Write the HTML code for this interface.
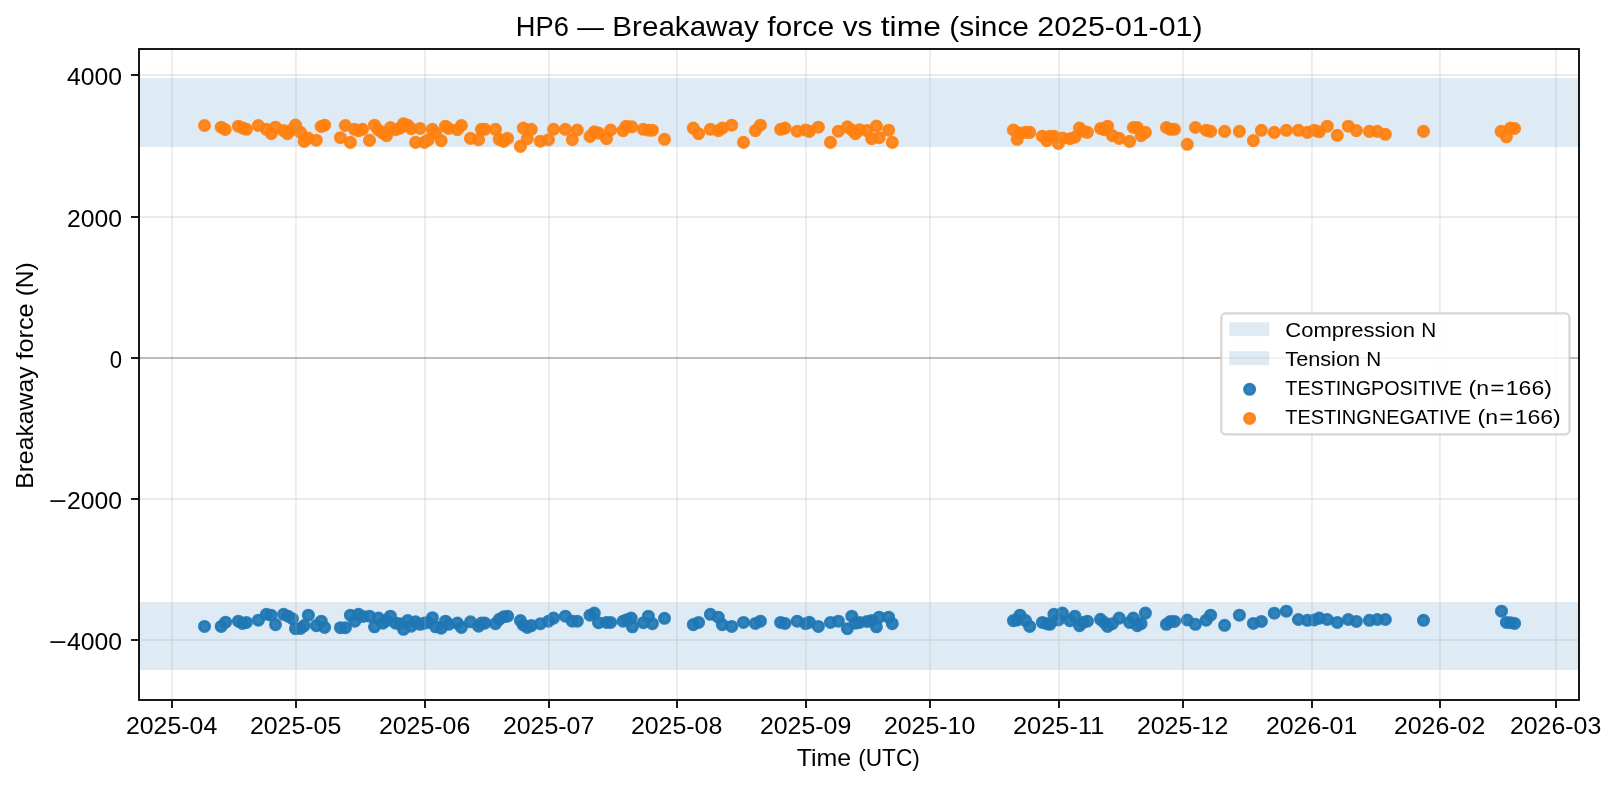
<!DOCTYPE html>
<html lang="en"><head><meta charset="utf-8"><title>HP6 — Breakaway force vs time</title>
<style>html,body{margin:0;padding:0;background:#fff}body{width:1618px;height:786px;overflow:hidden}svg{display:block;will-change:transform}text{font-family:"Liberation Sans",sans-serif;fill:#000}</style>
</head><body>
<svg width="1618" height="786" viewBox="0 0 1618 786">
<rect width="1618" height="786" fill="#fff"/>
<g fill="#1f77b4" fill-opacity="0.15">
<rect x="139.0" y="78.0" width="1440.0" height="69.0"/>
<rect x="139.0" y="602.0" width="1440.0" height="68.0"/>
</g>
<g fill="#1f77b4" fill-opacity="0.9" stroke="#1f77b4" stroke-opacity="0.9" stroke-width="2.85">
<circle cx="204.5" cy="626.4" r="5.1"/>
<circle cx="221.2" cy="626.4" r="5.1"/>
<circle cx="225.6" cy="622.2" r="5.1"/>
<circle cx="238.4" cy="621.2" r="5.1"/>
<circle cx="242.4" cy="623.4" r="5.1"/>
<circle cx="246.4" cy="622.4" r="5.1"/>
<circle cx="258.4" cy="620.2" r="5.1"/>
<circle cx="266.4" cy="614.3" r="5.1"/>
<circle cx="271.1" cy="615.2" r="5.1"/>
<circle cx="275.5" cy="624.6" r="5.1"/>
<circle cx="283.6" cy="614.3" r="5.1"/>
<circle cx="288.0" cy="616.2" r="5.1"/>
<circle cx="292.4" cy="618.7" r="5.1"/>
<circle cx="295.5" cy="628.7" r="5.1"/>
<circle cx="300.5" cy="628.4" r="5.1"/>
<circle cx="304.2" cy="625.6" r="5.1"/>
<circle cx="308.4" cy="615.2" r="5.1"/>
<circle cx="316.3" cy="625.6" r="5.1"/>
<circle cx="321.3" cy="621.2" r="5.1"/>
<circle cx="324.6" cy="627.4" r="5.1"/>
<circle cx="340.4" cy="627.7" r="5.1"/>
<circle cx="345.4" cy="627.7" r="5.1"/>
<circle cx="350.4" cy="615.2" r="5.1"/>
<circle cx="354.8" cy="621.2" r="5.1"/>
<circle cx="358.5" cy="614.3" r="5.1"/>
<circle cx="362.9" cy="616.5" r="5.1"/>
<circle cx="369.5" cy="616.2" r="5.1"/>
<circle cx="374.5" cy="626.8" r="5.1"/>
<circle cx="378.5" cy="618.1" r="5.1"/>
<circle cx="382.9" cy="623.1" r="5.1"/>
<circle cx="386.6" cy="620.6" r="5.1"/>
<circle cx="390.4" cy="616.2" r="5.1"/>
<circle cx="395.6" cy="623.1" r="5.1"/>
<circle cx="400.0" cy="623.7" r="5.1"/>
<circle cx="403.5" cy="629.3" r="5.1"/>
<circle cx="407.7" cy="620.6" r="5.1"/>
<circle cx="411.2" cy="626.2" r="5.1"/>
<circle cx="415.6" cy="621.8" r="5.1"/>
<circle cx="420.2" cy="624.3" r="5.1"/>
<circle cx="424.3" cy="623.1" r="5.1"/>
<circle cx="428.1" cy="622.4" r="5.1"/>
<circle cx="432.4" cy="617.7" r="5.1"/>
<circle cx="435.6" cy="626.8" r="5.1"/>
<circle cx="441.2" cy="628.1" r="5.1"/>
<circle cx="445.5" cy="621.2" r="5.1"/>
<circle cx="448.7" cy="624.3" r="5.1"/>
<circle cx="457.4" cy="623.1" r="5.1"/>
<circle cx="461.4" cy="627.4" r="5.1"/>
<circle cx="470.5" cy="621.8" r="5.1"/>
<circle cx="478.6" cy="626.2" r="5.1"/>
<circle cx="481.4" cy="623.1" r="5.1"/>
<circle cx="484.9" cy="623.1" r="5.1"/>
<circle cx="495.5" cy="623.7" r="5.1"/>
<circle cx="499.2" cy="619.3" r="5.1"/>
<circle cx="503.6" cy="616.8" r="5.1"/>
<circle cx="507.6" cy="616.2" r="5.1"/>
<circle cx="520.4" cy="620.6" r="5.1"/>
<circle cx="523.3" cy="624.9" r="5.1"/>
<circle cx="527.3" cy="627.4" r="5.1"/>
<circle cx="531.3" cy="625.6" r="5.1"/>
<circle cx="540.4" cy="623.7" r="5.1"/>
<circle cx="548.5" cy="621.2" r="5.1"/>
<circle cx="553.5" cy="618.1" r="5.1"/>
<circle cx="565.4" cy="616.2" r="5.1"/>
<circle cx="572.3" cy="621.2" r="5.1"/>
<circle cx="577.3" cy="621.2" r="5.1"/>
<circle cx="590.0" cy="615.2" r="5.1"/>
<circle cx="594.3" cy="613.1" r="5.1"/>
<circle cx="598.5" cy="622.7" r="5.1"/>
<circle cx="606.5" cy="622.4" r="5.1"/>
<circle cx="610.6" cy="622.4" r="5.1"/>
<circle cx="623.1" cy="621.2" r="5.1"/>
<circle cx="626.8" cy="619.7" r="5.1"/>
<circle cx="631.2" cy="618.1" r="5.1"/>
<circle cx="632.4" cy="626.8" r="5.1"/>
<circle cx="643.4" cy="622.7" r="5.1"/>
<circle cx="648.4" cy="616.2" r="5.1"/>
<circle cx="652.4" cy="623.7" r="5.1"/>
<circle cx="664.5" cy="618.3" r="5.1"/>
<circle cx="693.3" cy="624.6" r="5.1"/>
<circle cx="698.6" cy="622.4" r="5.1"/>
<circle cx="710.4" cy="614.3" r="5.1"/>
<circle cx="718.3" cy="617.2" r="5.1"/>
<circle cx="722.3" cy="624.6" r="5.1"/>
<circle cx="731.7" cy="626.4" r="5.1"/>
<circle cx="743.5" cy="622.4" r="5.1"/>
<circle cx="755.4" cy="623.4" r="5.1"/>
<circle cx="760.4" cy="621.2" r="5.1"/>
<circle cx="780.6" cy="622.4" r="5.1"/>
<circle cx="785.0" cy="623.4" r="5.1"/>
<circle cx="797.2" cy="621.2" r="5.1"/>
<circle cx="805.6" cy="623.7" r="5.1"/>
<circle cx="809.3" cy="622.2" r="5.1"/>
<circle cx="818.4" cy="626.4" r="5.1"/>
<circle cx="830.5" cy="622.4" r="5.1"/>
<circle cx="838.4" cy="621.2" r="5.1"/>
<circle cx="847.4" cy="628.7" r="5.1"/>
<circle cx="851.8" cy="616.2" r="5.1"/>
<circle cx="855.5" cy="623.1" r="5.1"/>
<circle cx="859.6" cy="622.4" r="5.1"/>
<circle cx="867.1" cy="621.4" r="5.1"/>
<circle cx="871.7" cy="620.6" r="5.1"/>
<circle cx="876.4" cy="626.8" r="5.1"/>
<circle cx="879.2" cy="617.2" r="5.1"/>
<circle cx="888.6" cy="617.2" r="5.1"/>
<circle cx="892.3" cy="623.7" r="5.1"/>
<circle cx="1013.4" cy="620.6" r="5.1"/>
<circle cx="1017.2" cy="620.0" r="5.1"/>
<circle cx="1020.0" cy="615.2" r="5.1"/>
<circle cx="1025.6" cy="620.6" r="5.1"/>
<circle cx="1029.7" cy="626.4" r="5.1"/>
<circle cx="1042.4" cy="622.4" r="5.1"/>
<circle cx="1046.8" cy="623.7" r="5.1"/>
<circle cx="1049.9" cy="624.3" r="5.1"/>
<circle cx="1053.9" cy="614.3" r="5.1"/>
<circle cx="1058.4" cy="620.0" r="5.1"/>
<circle cx="1062.4" cy="613.1" r="5.1"/>
<circle cx="1069.9" cy="620.6" r="5.1"/>
<circle cx="1074.9" cy="616.2" r="5.1"/>
<circle cx="1079.5" cy="625.6" r="5.1"/>
<circle cx="1083.0" cy="622.4" r="5.1"/>
<circle cx="1087.4" cy="621.2" r="5.1"/>
<circle cx="1100.5" cy="619.3" r="5.1"/>
<circle cx="1104.2" cy="622.4" r="5.1"/>
<circle cx="1107.6" cy="626.4" r="5.1"/>
<circle cx="1112.4" cy="623.7" r="5.1"/>
<circle cx="1119.2" cy="618.1" r="5.1"/>
<circle cx="1129.6" cy="622.4" r="5.1"/>
<circle cx="1133.3" cy="618.1" r="5.1"/>
<circle cx="1137.3" cy="625.6" r="5.1"/>
<circle cx="1141.1" cy="623.7" r="5.1"/>
<circle cx="1145.4" cy="613.1" r="5.1"/>
<circle cx="1166.4" cy="624.3" r="5.1"/>
<circle cx="1170.4" cy="621.4" r="5.1"/>
<circle cx="1174.5" cy="621.4" r="5.1"/>
<circle cx="1187.3" cy="620.0" r="5.1"/>
<circle cx="1195.4" cy="624.3" r="5.1"/>
<circle cx="1206.2" cy="620.2" r="5.1"/>
<circle cx="1210.6" cy="615.2" r="5.1"/>
<circle cx="1224.6" cy="625.3" r="5.1"/>
<circle cx="1239.4" cy="615.2" r="5.1"/>
<circle cx="1253.4" cy="623.4" r="5.1"/>
<circle cx="1261.4" cy="621.4" r="5.1"/>
<circle cx="1274.3" cy="613.2" r="5.1"/>
<circle cx="1286.4" cy="611.2" r="5.1"/>
<circle cx="1298.4" cy="619.5" r="5.1"/>
<circle cx="1307.4" cy="620.3" r="5.1"/>
<circle cx="1314.2" cy="620.0" r="5.1"/>
<circle cx="1319.2" cy="618.1" r="5.1"/>
<circle cx="1327.3" cy="619.5" r="5.1"/>
<circle cx="1337.3" cy="622.4" r="5.1"/>
<circle cx="1348.3" cy="619.5" r="5.1"/>
<circle cx="1356.4" cy="621.4" r="5.1"/>
<circle cx="1369.4" cy="620.3" r="5.1"/>
<circle cx="1377.3" cy="619.5" r="5.1"/>
<circle cx="1385.4" cy="619.5" r="5.1"/>
<circle cx="1423.5" cy="620.3" r="5.1"/>
<circle cx="1501.5" cy="611.2" r="5.1"/>
<circle cx="1506.4" cy="622.4" r="5.1"/>
<circle cx="1510.5" cy="622.7" r="5.1"/>
<circle cx="1514.6" cy="623.4" r="5.1"/>
</g>
<g fill="#ff7f0e" fill-opacity="0.9" stroke="#ff7f0e" stroke-opacity="0.9" stroke-width="2.85">
<circle cx="204.5" cy="125.5" r="5.1"/>
<circle cx="221.2" cy="127.2" r="5.1"/>
<circle cx="225.2" cy="129.5" r="5.1"/>
<circle cx="238.4" cy="126.2" r="5.1"/>
<circle cx="243.1" cy="128.1" r="5.1"/>
<circle cx="246.4" cy="129.3" r="5.1"/>
<circle cx="258.3" cy="125.5" r="5.1"/>
<circle cx="266.4" cy="129.3" r="5.1"/>
<circle cx="271.4" cy="133.7" r="5.1"/>
<circle cx="275.5" cy="127.2" r="5.1"/>
<circle cx="283.6" cy="130.6" r="5.1"/>
<circle cx="287.4" cy="133.7" r="5.1"/>
<circle cx="291.4" cy="130.0" r="5.1"/>
<circle cx="295.5" cy="125.0" r="5.1"/>
<circle cx="300.5" cy="132.4" r="5.1"/>
<circle cx="304.2" cy="141.4" r="5.1"/>
<circle cx="308.0" cy="138.1" r="5.1"/>
<circle cx="316.3" cy="140.2" r="5.1"/>
<circle cx="321.1" cy="126.5" r="5.1"/>
<circle cx="324.6" cy="125.2" r="5.1"/>
<circle cx="340.4" cy="137.7" r="5.1"/>
<circle cx="345.3" cy="125.5" r="5.1"/>
<circle cx="350.4" cy="142.4" r="5.1"/>
<circle cx="354.5" cy="129.3" r="5.1"/>
<circle cx="358.5" cy="130.6" r="5.1"/>
<circle cx="362.5" cy="129.3" r="5.1"/>
<circle cx="369.5" cy="140.4" r="5.1"/>
<circle cx="374.5" cy="125.2" r="5.1"/>
<circle cx="378.5" cy="130.0" r="5.1"/>
<circle cx="382.9" cy="133.1" r="5.1"/>
<circle cx="386.6" cy="135.6" r="5.1"/>
<circle cx="390.4" cy="127.5" r="5.1"/>
<circle cx="395.6" cy="129.7" r="5.1"/>
<circle cx="400.0" cy="128.1" r="5.1"/>
<circle cx="403.5" cy="123.7" r="5.1"/>
<circle cx="407.7" cy="125.2" r="5.1"/>
<circle cx="411.2" cy="128.7" r="5.1"/>
<circle cx="415.6" cy="142.4" r="5.1"/>
<circle cx="420.2" cy="128.5" r="5.1"/>
<circle cx="424.3" cy="142.4" r="5.1"/>
<circle cx="428.1" cy="139.9" r="5.1"/>
<circle cx="432.4" cy="129.3" r="5.1"/>
<circle cx="435.6" cy="133.1" r="5.1"/>
<circle cx="441.2" cy="140.6" r="5.1"/>
<circle cx="445.5" cy="126.2" r="5.1"/>
<circle cx="448.7" cy="128.5" r="5.1"/>
<circle cx="457.4" cy="129.7" r="5.1"/>
<circle cx="461.4" cy="125.5" r="5.1"/>
<circle cx="470.5" cy="138.4" r="5.1"/>
<circle cx="478.6" cy="139.7" r="5.1"/>
<circle cx="481.4" cy="129.3" r="5.1"/>
<circle cx="484.9" cy="129.3" r="5.1"/>
<circle cx="495.5" cy="129.3" r="5.1"/>
<circle cx="499.2" cy="139.3" r="5.1"/>
<circle cx="503.6" cy="141.4" r="5.1"/>
<circle cx="507.6" cy="138.4" r="5.1"/>
<circle cx="520.4" cy="146.4" r="5.1"/>
<circle cx="523.3" cy="128.1" r="5.1"/>
<circle cx="527.3" cy="138.7" r="5.1"/>
<circle cx="531.3" cy="129.3" r="5.1"/>
<circle cx="540.4" cy="141.2" r="5.1"/>
<circle cx="548.5" cy="139.7" r="5.1"/>
<circle cx="553.5" cy="129.3" r="5.1"/>
<circle cx="565.4" cy="129.3" r="5.1"/>
<circle cx="572.3" cy="139.7" r="5.1"/>
<circle cx="577.3" cy="130.0" r="5.1"/>
<circle cx="590.0" cy="136.4" r="5.1"/>
<circle cx="594.3" cy="131.8" r="5.1"/>
<circle cx="598.5" cy="133.1" r="5.1"/>
<circle cx="606.5" cy="138.7" r="5.1"/>
<circle cx="610.6" cy="130.0" r="5.1"/>
<circle cx="623.1" cy="130.6" r="5.1"/>
<circle cx="626.2" cy="126.2" r="5.1"/>
<circle cx="631.8" cy="126.8" r="5.1"/>
<circle cx="643.4" cy="129.3" r="5.1"/>
<circle cx="648.7" cy="130.2" r="5.1"/>
<circle cx="652.4" cy="130.2" r="5.1"/>
<circle cx="664.5" cy="139.3" r="5.1"/>
<circle cx="693.3" cy="128.1" r="5.1"/>
<circle cx="698.6" cy="133.7" r="5.1"/>
<circle cx="710.4" cy="129.3" r="5.1"/>
<circle cx="718.3" cy="130.6" r="5.1"/>
<circle cx="722.3" cy="128.1" r="5.1"/>
<circle cx="731.7" cy="125.2" r="5.1"/>
<circle cx="743.5" cy="142.4" r="5.1"/>
<circle cx="755.4" cy="130.6" r="5.1"/>
<circle cx="760.4" cy="125.2" r="5.1"/>
<circle cx="780.6" cy="129.3" r="5.1"/>
<circle cx="785.0" cy="128.1" r="5.1"/>
<circle cx="797.2" cy="131.2" r="5.1"/>
<circle cx="805.6" cy="130.0" r="5.1"/>
<circle cx="809.3" cy="131.4" r="5.1"/>
<circle cx="818.4" cy="127.2" r="5.1"/>
<circle cx="830.5" cy="142.4" r="5.1"/>
<circle cx="838.4" cy="131.2" r="5.1"/>
<circle cx="847.4" cy="126.8" r="5.1"/>
<circle cx="851.8" cy="130.0" r="5.1"/>
<circle cx="855.5" cy="133.7" r="5.1"/>
<circle cx="859.6" cy="129.7" r="5.1"/>
<circle cx="867.1" cy="130.6" r="5.1"/>
<circle cx="871.7" cy="138.7" r="5.1"/>
<circle cx="876.4" cy="126.0" r="5.1"/>
<circle cx="879.2" cy="137.7" r="5.1"/>
<circle cx="888.6" cy="130.2" r="5.1"/>
<circle cx="892.3" cy="142.4" r="5.1"/>
<circle cx="1013.4" cy="130.0" r="5.1"/>
<circle cx="1017.2" cy="139.3" r="5.1"/>
<circle cx="1020.0" cy="133.1" r="5.1"/>
<circle cx="1025.6" cy="132.4" r="5.1"/>
<circle cx="1029.7" cy="132.4" r="5.1"/>
<circle cx="1042.4" cy="136.2" r="5.1"/>
<circle cx="1046.8" cy="140.6" r="5.1"/>
<circle cx="1049.9" cy="136.4" r="5.1"/>
<circle cx="1053.9" cy="136.2" r="5.1"/>
<circle cx="1058.4" cy="143.4" r="5.1"/>
<circle cx="1062.4" cy="138.1" r="5.1"/>
<circle cx="1069.9" cy="138.7" r="5.1"/>
<circle cx="1074.9" cy="137.2" r="5.1"/>
<circle cx="1079.5" cy="128.1" r="5.1"/>
<circle cx="1083.0" cy="131.2" r="5.1"/>
<circle cx="1087.4" cy="132.4" r="5.1"/>
<circle cx="1100.5" cy="128.5" r="5.1"/>
<circle cx="1104.2" cy="129.7" r="5.1"/>
<circle cx="1107.6" cy="126.2" r="5.1"/>
<circle cx="1112.4" cy="135.6" r="5.1"/>
<circle cx="1119.2" cy="138.4" r="5.1"/>
<circle cx="1129.6" cy="141.4" r="5.1"/>
<circle cx="1133.3" cy="127.5" r="5.1"/>
<circle cx="1137.3" cy="127.5" r="5.1"/>
<circle cx="1141.1" cy="135.6" r="5.1"/>
<circle cx="1145.4" cy="132.4" r="5.1"/>
<circle cx="1166.4" cy="127.5" r="5.1"/>
<circle cx="1170.4" cy="129.3" r="5.1"/>
<circle cx="1174.5" cy="129.3" r="5.1"/>
<circle cx="1187.3" cy="144.3" r="5.1"/>
<circle cx="1195.4" cy="127.5" r="5.1"/>
<circle cx="1206.2" cy="130.2" r="5.1"/>
<circle cx="1210.6" cy="131.4" r="5.1"/>
<circle cx="1224.6" cy="131.4" r="5.1"/>
<circle cx="1239.4" cy="131.4" r="5.1"/>
<circle cx="1253.4" cy="140.6" r="5.1"/>
<circle cx="1261.4" cy="130.3" r="5.1"/>
<circle cx="1274.3" cy="132.4" r="5.1"/>
<circle cx="1286.4" cy="130.3" r="5.1"/>
<circle cx="1298.4" cy="130.3" r="5.1"/>
<circle cx="1307.4" cy="132.4" r="5.1"/>
<circle cx="1314.2" cy="130.2" r="5.1"/>
<circle cx="1319.2" cy="131.8" r="5.1"/>
<circle cx="1327.3" cy="126.2" r="5.1"/>
<circle cx="1337.3" cy="135.3" r="5.1"/>
<circle cx="1348.3" cy="126.2" r="5.1"/>
<circle cx="1356.4" cy="130.6" r="5.1"/>
<circle cx="1369.4" cy="131.4" r="5.1"/>
<circle cx="1377.3" cy="131.4" r="5.1"/>
<circle cx="1385.4" cy="134.3" r="5.1"/>
<circle cx="1423.5" cy="131.4" r="5.1"/>
<circle cx="1501.1" cy="131.4" r="5.1"/>
<circle cx="1506.4" cy="136.8" r="5.1"/>
<circle cx="1510.5" cy="128.1" r="5.1"/>
<circle cx="1514.6" cy="128.5" r="5.1"/>
</g>
<g stroke="#b0b0b0" stroke-opacity="0.25" stroke-width="1.78">
<line x1="172.0" y1="49.0" x2="172.0" y2="700.0"/>
<line x1="296.0" y1="49.0" x2="296.0" y2="700.0"/>
<line x1="425.0" y1="49.0" x2="425.0" y2="700.0"/>
<line x1="549.0" y1="49.0" x2="549.0" y2="700.0"/>
<line x1="677.0" y1="49.0" x2="677.0" y2="700.0"/>
<line x1="806.0" y1="49.0" x2="806.0" y2="700.0"/>
<line x1="930.0" y1="49.0" x2="930.0" y2="700.0"/>
<line x1="1059.0" y1="49.0" x2="1059.0" y2="700.0"/>
<line x1="1183.0" y1="49.0" x2="1183.0" y2="700.0"/>
<line x1="1312.0" y1="49.0" x2="1312.0" y2="700.0"/>
<line x1="1440.0" y1="49.0" x2="1440.0" y2="700.0"/>
<line x1="1556.0" y1="49.0" x2="1556.0" y2="700.0"/>
<line x1="139.0" y1="75.0" x2="1579.0" y2="75.0"/>
<line x1="139.0" y1="217.0" x2="1579.0" y2="217.0"/>
<line x1="139.0" y1="358.0" x2="1579.0" y2="358.0"/>
<line x1="139.0" y1="499.0" x2="1579.0" y2="499.0"/>
<line x1="139.0" y1="640.0" x2="1579.0" y2="640.0"/>
</g>
<line x1="139.0" y1="358.0" x2="1579.0" y2="358.0" stroke="#000" stroke-opacity="0.2" stroke-width="2"/>
<g stroke="#000" stroke-width="1.78">
<line x1="172.0" y1="700.0" x2="172.0" y2="708.0"/>
<line x1="296.0" y1="700.0" x2="296.0" y2="708.0"/>
<line x1="425.0" y1="700.0" x2="425.0" y2="708.0"/>
<line x1="549.0" y1="700.0" x2="549.0" y2="708.0"/>
<line x1="677.0" y1="700.0" x2="677.0" y2="708.0"/>
<line x1="806.0" y1="700.0" x2="806.0" y2="708.0"/>
<line x1="930.0" y1="700.0" x2="930.0" y2="708.0"/>
<line x1="1059.0" y1="700.0" x2="1059.0" y2="708.0"/>
<line x1="1183.0" y1="700.0" x2="1183.0" y2="708.0"/>
<line x1="1312.0" y1="700.0" x2="1312.0" y2="708.0"/>
<line x1="1440.0" y1="700.0" x2="1440.0" y2="708.0"/>
<line x1="1556.0" y1="700.0" x2="1556.0" y2="708.0"/>
<line x1="131.0" y1="75.0" x2="139.0" y2="75.0"/>
<line x1="131.0" y1="217.0" x2="139.0" y2="217.0"/>
<line x1="131.0" y1="358.0" x2="139.0" y2="358.0"/>
<line x1="131.0" y1="499.0" x2="139.0" y2="499.0"/>
<line x1="131.0" y1="640.0" x2="139.0" y2="640.0"/>
</g>
<rect x="139.0" y="49.0" width="1440.0" height="651.00" fill="none" stroke="#000" stroke-width="1.8"/>
<g font-size="24.0">
<text x="171.6" y="734.3" text-anchor="middle" textLength="91.4" lengthAdjust="spacingAndGlyphs">2025-04</text>
<text x="295.6" y="734.3" text-anchor="middle" textLength="91.4" lengthAdjust="spacingAndGlyphs">2025-05</text>
<text x="424.6" y="734.3" text-anchor="middle" textLength="91.4" lengthAdjust="spacingAndGlyphs">2025-06</text>
<text x="548.6" y="734.3" text-anchor="middle" textLength="91.4" lengthAdjust="spacingAndGlyphs">2025-07</text>
<text x="676.6" y="734.3" text-anchor="middle" textLength="91.4" lengthAdjust="spacingAndGlyphs">2025-08</text>
<text x="805.6" y="734.3" text-anchor="middle" textLength="91.4" lengthAdjust="spacingAndGlyphs">2025-09</text>
<text x="929.6" y="734.3" text-anchor="middle" textLength="91.4" lengthAdjust="spacingAndGlyphs">2025-10</text>
<text x="1058.6" y="734.3" text-anchor="middle" textLength="91.4" lengthAdjust="spacingAndGlyphs">2025-11</text>
<text x="1182.6" y="734.3" text-anchor="middle" textLength="91.4" lengthAdjust="spacingAndGlyphs">2025-12</text>
<text x="1311.6" y="734.3" text-anchor="middle" textLength="91.4" lengthAdjust="spacingAndGlyphs">2026-01</text>
<text x="1439.6" y="734.3" text-anchor="middle" textLength="91.4" lengthAdjust="spacingAndGlyphs">2026-02</text>
<text x="1555.6" y="734.3" text-anchor="middle" textLength="91.4" lengthAdjust="spacingAndGlyphs">2026-03</text>
<text x="122.1" y="85.3" text-anchor="end" textLength="55.0" lengthAdjust="spacingAndGlyphs">4000</text>
<text x="122.1" y="227.3" text-anchor="end" textLength="55.0" lengthAdjust="spacingAndGlyphs">2000</text>
<text x="122.1" y="368.3" text-anchor="end" textLength="12.3" lengthAdjust="spacingAndGlyphs">0</text>
<text y="509.3"><tspan x="48.8" textLength="18.0" lengthAdjust="spacingAndGlyphs">−</tspan><tspan x="67.1" textLength="55.0" lengthAdjust="spacingAndGlyphs">2000</tspan></text>
<text y="650.3"><tspan x="48.8" textLength="18.0" lengthAdjust="spacingAndGlyphs">−</tspan><tspan x="67.1" textLength="55.0" lengthAdjust="spacingAndGlyphs">4000</tspan></text>
<text y="765.7" font-size="24.0" ><tspan x="796.65" textLength="54.51" lengthAdjust="spacingAndGlyphs">Time</tspan> <tspan x="858.23" textLength="61.52" lengthAdjust="spacingAndGlyphs">(UTC)</tspan></text>
<text y="0" font-size="24.0" transform="translate(33.3 375.6) rotate(-90)"><tspan x="-113.27" textLength="122.38" lengthAdjust="spacingAndGlyphs">Breakaway</tspan> <tspan x="16.18" textLength="56.02" lengthAdjust="spacingAndGlyphs">force</tspan> <tspan x="79.27" textLength="34.01" lengthAdjust="spacingAndGlyphs">(N)</tspan></text>
</g>
<text y="35.6" font-size="27.6" ><tspan x="515.80" textLength="53.02" lengthAdjust="spacingAndGlyphs">HP6</tspan> <tspan x="577.28" textLength="26.62" lengthAdjust="spacingAndGlyphs">—</tspan> <tspan x="612.37" textLength="146.37" lengthAdjust="spacingAndGlyphs">Breakaway</tspan> <tspan x="767.20" textLength="67.00" lengthAdjust="spacingAndGlyphs">force</tspan> <tspan x="842.66" textLength="29.63" lengthAdjust="spacingAndGlyphs">vs</tspan> <tspan x="880.75" textLength="60.15" lengthAdjust="spacingAndGlyphs">time</tspan> <tspan x="949.37" textLength="79.55" lengthAdjust="spacingAndGlyphs">(since</tspan> <tspan x="1037.38" textLength="165.12" lengthAdjust="spacingAndGlyphs">2025-01-01)</tspan></text>
<rect x="1221.3" y="313.4" width="348.2" height="120.9" rx="4.4" ry="4.4" fill="#fff" fill-opacity="0.8" stroke="#ccc" stroke-opacity="0.8" stroke-width="2.2"/>
<g fill="#1f77b4" fill-opacity="0.15">
<rect x="1229.2" y="322.2" width="40" height="13.9"/>
<rect x="1229.2" y="351.2" width="40" height="13.9"/>
</g>
<circle cx="1249.6" cy="389.3" r="5.1" fill="#1f77b4" fill-opacity="0.9" stroke="#1f77b4" stroke-opacity="0.9" stroke-width="2.85"/>
<circle cx="1249.6" cy="418.4" r="5.1" fill="#ff7f0e" fill-opacity="0.9" stroke="#ff7f0e" stroke-opacity="0.9" stroke-width="2.85"/>
<g font-size="20.8">
<text y="337.0" font-size="20.8" ><tspan x="1285.30" textLength="129.71" lengthAdjust="spacingAndGlyphs">Compression</tspan> <tspan x="1421.37" textLength="14.96" lengthAdjust="spacingAndGlyphs">N</tspan></text>
<text y="365.8" font-size="20.8" ><tspan x="1285.30" textLength="74.71" lengthAdjust="spacingAndGlyphs">Tension</tspan> <tspan x="1366.37" textLength="14.96" lengthAdjust="spacingAndGlyphs">N</tspan></text>
<text y="394.9" font-size="20.8" ><tspan x="1285.30" textLength="176.95" lengthAdjust="spacingAndGlyphs">TESTINGPOSITIVE</tspan> <tspan x="1468.61" textLength="20.48" lengthAdjust="spacingAndGlyphs">(n</tspan><tspan x="1490.39" textLength="14.16" lengthAdjust="spacingAndGlyphs">=</tspan><tspan x="1505.85" textLength="45.98" lengthAdjust="spacingAndGlyphs">166)</tspan></text>
<text y="424.0" font-size="20.8" ><tspan x="1285.30" textLength="185.83" lengthAdjust="spacingAndGlyphs">TESTINGNEGATIVE</tspan> <tspan x="1477.49" textLength="20.48" lengthAdjust="spacingAndGlyphs">(n</tspan><tspan x="1499.27" textLength="14.16" lengthAdjust="spacingAndGlyphs">=</tspan><tspan x="1514.73" textLength="45.98" lengthAdjust="spacingAndGlyphs">166)</tspan></text>
</g>
</svg>
</body></html>
